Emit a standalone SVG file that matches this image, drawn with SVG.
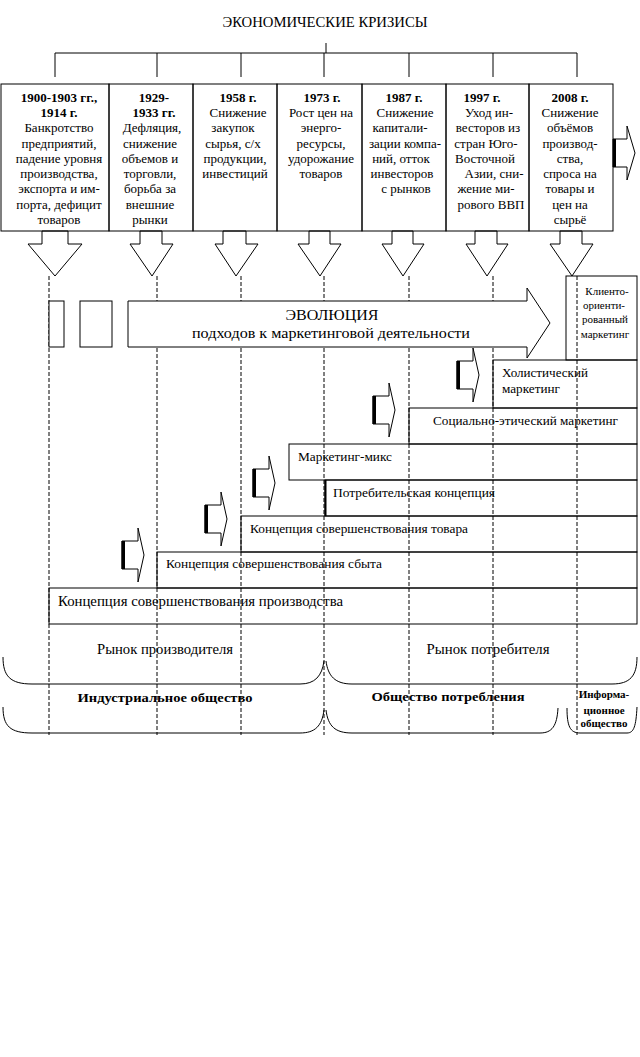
<svg xmlns="http://www.w3.org/2000/svg" xmlns:xlink="http://www.w3.org/1999/xlink" width="640" height="1057" viewBox="0 0 640 1057">
<style>
.ln{fill:none;stroke:#000;stroke-width:1}
.wf{fill:#fff;stroke:#000;stroke-width:1}
.dash{fill:none;stroke:#000;stroke-width:1;stroke-dasharray:4 2}
.t{font-family:"Liberation Serif","Times New Roman",serif;font-size:13px;fill:#000}
.c{text-anchor:middle}
.b{font-weight:bold}
.s12{font-size:12px}
.s14{font-size:14px}
.s11{font-size:11px}
</style>
<defs>
<g id="sarrow">
<polygon class="wf" points="0,-14 16,-14 16,-27 22,0 16,27 16,14 0,14"/>
<rect x="-0.5" y="-14" width="3.5" height="28" fill="#000"/>
</g>
</defs>
<rect width="640" height="1057" fill="#fff"/>

<g id="title">
<text class="t c s14" x="325" y="27" textLength="205" lengthAdjust="spacingAndGlyphs">ЭКОНОМИЧЕСКИЕ КРИЗИСЫ</text>
</g>

<g id="connectors">
<path class="ln" d="M326,43V53M55,53H577M55,53V77M157,53V77M241,53V77M324,53V77M409,53V77M493,53V77M577,53V77"/>
<path class="dash" d="M49,276V735M157,276V735M241,276V735M324,276V735M409,276V735M493,276V735M577,276V735"/>
<polygon class="wf" points="42,231 42,244 28,244 55,276 82,244 68,244 68,231"/>
<polygon class="wf" points="140,231 140,244 130,244 152,276 173,244 162,244 162,231"/>
<polygon class="wf" points="223,231 223,244 215,244 236,276 258,244 246,244 246,231"/>
<polygon class="wf" points="309,231 309,244 298,244 320,276 341,244 330,244 330,231"/>
<polygon class="wf" points="392,231 392,244 382,244 403,276 424,244 413,244 413,231"/>
<polygon class="wf" points="475,231 475,244 466,244 487,276 508,244 497,244 497,231"/>
<polygon class="wf" points="560,231 560,244 550,244 572,276 593,244 582,244 582,231"/>
<polygon class="wf" points="613,139 627,139 627,126 635,153 627,180 627,167 613,167"/>
<line x1="614.5" y1="139" x2="614.5" y2="167" stroke="#000" stroke-width="3"/>
<use xlink:href="#sarrow" x="122" y="555"/>
<use xlink:href="#sarrow" x="205" y="519"/>
<use xlink:href="#sarrow" x="253" y="483"/>
<use xlink:href="#sarrow" x="373" y="410"/>
<use xlink:href="#sarrow" x="457" y="375"/>
</g>

<g id="box1900">
<rect class="ln" x="1" y="84" width="108" height="147"/>
<text class="t c b" x="59" y="102">1900-1903 гг.,</text>
<text class="t c b" x="59" y="117">1914 г.</text>
<text class="t c" x="59" y="132">Банкротство</text>
<text class="t c" x="59" y="148">предприятий,</text>
<text class="t c" x="59" y="163">падение уровня</text>
<text class="t c" x="59" y="178">производства,</text>
<text class="t c" x="59" y="193">экспорта и им-</text>
<text class="t c" x="59" y="209">порта, дефицит</text>
<text class="t c" x="59" y="224">товаров</text>
</g>
<g id="box1929">
<rect class="ln" x="109" y="84" width="84" height="147"/>
<text class="t c b" x="154" y="102">1929-</text>
<text class="t c b" x="154" y="117">1933 гг.</text>
<text class="t c" x="152" y="132">Дефляция,</text>
<text class="t c" x="150" y="148">снижение</text>
<text class="t c" x="150" y="163">объемов и</text>
<text class="t c" x="150" y="178">торговли,</text>
<text class="t c" x="150" y="193">борьба за</text>
<text class="t c" x="150" y="209">внешние</text>
<text class="t c" x="150" y="224">рынки</text>
</g>
<g id="box1958">
<rect class="ln" x="193" y="84" width="84" height="147"/>
<text class="t c b" x="238" y="102">1958 г.</text>
<text class="t c" x="238" y="117">Снижение</text>
<text class="t c" x="233" y="132">закупок</text>
<text class="t c" x="233" y="148">сырья, с/х</text>
<text class="t c" x="235" y="163">продукции,</text>
<text class="t c" x="235" y="178">инвестиций</text>
</g>
<g id="box1973">
<rect class="ln" x="277" y="84" width="85" height="147"/>
<text class="t c b" x="322" y="102">1973 г.</text>
<text class="t c" x="321" y="117">Рост цен на</text>
<text class="t c" x="321" y="132">энерго-</text>
<text class="t c" x="321" y="148">ресурсы,</text>
<text class="t c" x="321" y="163">удорожание</text>
<text class="t c" x="321" y="178">товаров</text>
</g>
<g id="box1987">
<rect class="ln" x="362" y="84" width="84" height="147"/>
<text class="t c b" x="404" y="102">1987 г.</text>
<text class="t c" x="405" y="117">Снижение</text>
<text class="t c" x="400" y="132">капитали-</text>
<text class="t c" x="405" y="148">зации компа-</text>
<text class="t c" x="401" y="163">ний, отток</text>
<text class="t c" x="402" y="178">инвесторов</text>
<text class="t c" x="406" y="193">с рынков</text>
</g>
<g id="box1997">
<rect class="ln" x="446" y="84" width="83" height="147"/>
<text class="t c b" x="482" y="102">1997 г.</text>
<text class="t c" x="489" y="117">Уход ин-</text>
<text class="t c" x="488" y="132">весторов из</text>
<text class="t c" x="486" y="148">стран Юго-</text>
<text class="t c" x="485" y="163">Восточной</text>
<text class="t c" x="494" y="178">Азии, сни-</text>
<text class="t c" x="486" y="193">жение ми-</text>
<text class="t c" x="491" y="209">рового ВВП</text>
</g>
<g id="box2008">
<rect class="ln" x="529" y="84" width="84" height="147"/>
<text class="t c b" x="570" y="102">2008 г.</text>
<text class="t c" x="570" y="117">Снижение</text>
<text class="t c" x="570" y="132">объёмов</text>
<text class="t c" x="570" y="148">производ-</text>
<text class="t c" x="570" y="163">ства,</text>
<text class="t c" x="570" y="178">спроса на</text>
<text class="t c" x="570" y="193">товары и</text>
<text class="t c" x="570" y="209">цен на</text>
<text class="t c" x="570" y="224">сырьё</text>
</g>

<g id="evolution">
<rect class="wf" x="49" y="301" width="15" height="46"/>
<rect class="wf" x="80" y="301" width="32" height="46"/>
<polygon class="wf" points="128,301 527,301 527,288 550,323 527,358 527,347 128,347"/>
<text class="t c" x="332" y="320" style="font-size:15px" textLength="93" lengthAdjust="spacingAndGlyphs">ЭВОЛЮЦИЯ</text>
<text class="t s14" x="192" y="338" textLength="278" lengthAdjust="spacingAndGlyphs">подходов к маркетинговой деятельности</text>
</g>

<g id="client">
<rect class="ln" x="566" y="276" width="71" height="84"/>
<text class="t c s11" x="607" y="295">Клиенто-</text>
<text class="t c s11" x="604" y="309">ориенти-</text>
<text class="t c s11" x="605" y="323">рованный</text>
<text class="t c s11" x="605" y="338">маркетинг</text>
</g>
<g id="holistic">
<rect class="ln" x="493" y="360" width="144" height="48"/>
<text class="t s12" x="502" y="377" textLength="86" lengthAdjust="spacingAndGlyphs">Холистический</text>
<text class="t s12" x="502" y="393" textLength="58" lengthAdjust="spacingAndGlyphs">маркетинг</text>
</g>
<g id="social">
<rect class="ln" x="409" y="408" width="228" height="36"/>
<text class="t s12" x="433" y="425" textLength="185" lengthAdjust="spacingAndGlyphs">Социально-этический маркетинг</text>
</g>
<g id="mix">
<rect class="ln" x="289" y="444" width="348" height="36"/>
<text class="t s12" x="298" y="461" textLength="94" lengthAdjust="spacingAndGlyphs">Маркетинг-микс</text>
</g>
<g id="consumer">
<rect class="ln" x="325" y="480" width="312" height="36"/>
<line x1="325.5" y1="480" x2="325.5" y2="516" stroke="#000" stroke-width="2"/>
<text class="t s12" x="333" y="497" textLength="162" lengthAdjust="spacingAndGlyphs">Потребительская концепция</text>
</g>
<g id="product">
<rect class="ln" x="241" y="516" width="396" height="36"/>
<text class="t s12" x="250" y="533" textLength="218" lengthAdjust="spacingAndGlyphs">Концепция совершенствования товара</text>
</g>
<g id="selling">
<rect class="ln" x="157" y="552" width="480" height="36"/>
<text class="t s12" x="166" y="568" textLength="216" lengthAdjust="spacingAndGlyphs">Концепция совершенствования сбыта</text>
</g>
<g id="production">
<rect class="ln" x="49" y="588" width="588" height="36"/>
<text class="t s14" x="58" y="606" textLength="285" lengthAdjust="spacingAndGlyphs">Концепция совершенствования производства</text>
</g>

<g id="markets">
<text class="t c s14" x="165" y="654" textLength="136" lengthAdjust="spacingAndGlyphs">Рынок производителя</text>
<text class="t c s14" x="488" y="654" textLength="123" lengthAdjust="spacingAndGlyphs">Рынок потребителя</text>
<path class="ln" d="M3,657C3,676 10,684 32,684L300,684C315,684 322,676 324,661"/>
<path class="ln" d="M326,661C328,676 335,684 352,684L612,684C630,684 637,676 637,657"/>
</g>
<g id="societies">
<text class="t c b" x="165" y="702" textLength="175" lengthAdjust="spacingAndGlyphs">Индустриальное общество</text>
<text class="t c b" x="448" y="701" textLength="153" lengthAdjust="spacingAndGlyphs">Общество потребления</text>
<text class="t c b s11" x="604" y="698">Информа-</text>
<text class="t c b s11" x="604" y="714">ционное</text>
<text class="t c b s11" x="604" y="727">общество</text>
<path class="ln" d="M3,707C3,726 10,733 32,733L300,733C315,733 322,726 324,710"/>
<path class="ln" d="M326,710C328,726 335,733 352,733L540,733C552,733 557,726 558,708"/>
<path class="ln" d="M567,708C567,726 570,733 580,733L627,733C634,733 636,726 637,707"/>
</g>
</svg>
